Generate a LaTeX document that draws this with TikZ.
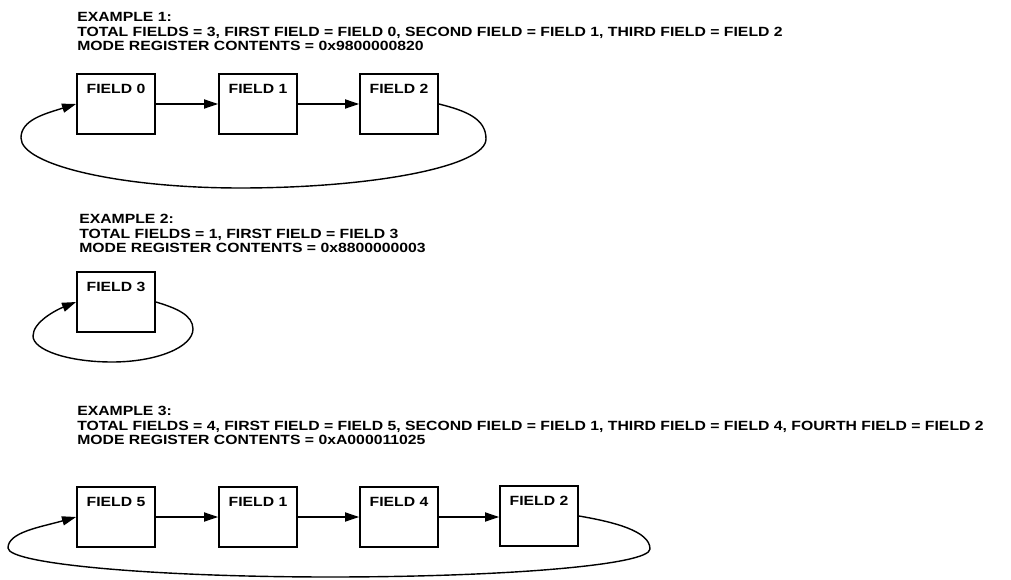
\documentclass[tikz,border=0pt]{standalone}
\usepackage{fontspec}
\setmainfont{Liberation Sans}
\newfontfamily\widesans[FakeStretch=1.18]{Liberation Sans}
\usetikzlibrary{calc,arrows.meta}

\tikzset{
  header/.style={anchor=north west,inner sep=0pt,align=left,
    font=\widesans\fontsize{9.5}{10.4}\selectfont\bfseries},
  fieldbox/.style={draw,rectangle,line width=1.3pt,minimum width=1.95cm,
    minimum height=1.5cm,inner xsep=0pt,inner ysep=0.15cm,
    text height=0.33cm,text depth=0.87cm,
    font=\widesans\fontsize{9.5}{10.4}\selectfont\bfseries},
  flow/.style={line width=1pt,-{Triangle[length=10pt,width=6.5pt]}}
}

\begin{document}
\begin{tikzpicture}[x=0.025cm,y=0.025cm]
  \useasboundingbox (0,0) rectangle (1011,579);
  % example 1
  \node[header] (hdr1) at (77,567) {EXAMPLE 1:\\
    TOTAL FIELDS = 3, FIRST FIELD = FIELD 0, SECOND FIELD = FIELD 1, THIRD FIELD = FIELD 2\\
    MODE REGISTER CONTENTS = 0x9800000820};
  \node[fieldbox] (f0) at (116,475) {FIELD 0};
  \node[fieldbox] (f1) at ($(f0)+(142,0)$) {FIELD 1};
  \node[fieldbox] (f2) at ($(f1)+(141,0)$) {FIELD 2};
  \coordinate (e1r) at (486,440);
  \coordinate (e1b) at (240,391);
  \coordinate (e1l) at (21,441);
  \draw[flow] (f0) -- (f1);
  \draw[flow] (f1) -- (f2);
  \draw[flow] (f2.east) .. controls ($(f2.east)+(28,-7)$) and ($(e1r)+(0,20)$) .. (e1r)
    .. controls ($(e1r)+(0,-27)$) and ($(e1b)+(135,0)$) .. (e1b)
    .. controls ($(e1b)+(-120,0)$) and ($(e1l)+(0,-27)$) .. (e1l)
    .. controls ($(e1l)+(0,18)$) and ($(f0.west)+(-32,-10)$) .. (f0.west);
  % example 2
  \node[header] (hdr2) at (79,365) {EXAMPLE 2:\\
    TOTAL FIELDS = 1, FIRST FIELD = FIELD 3\\
    MODE REGISTER CONTENTS = 0x8800000003};
  \node[fieldbox] (f3) at (116,277) {FIELD 3};
  \coordinate (e2r) at (193,250);
  \coordinate (e2b) at (112,217);
  \coordinate (e2l) at (33,243);
  \draw[flow] (f3.east) .. controls ($(f3.east)+(20,-6)$) and ($(e2r)+(0,14)$) .. (e2r)
    .. controls ($(e2r)+(0,-18)$) and ($(e2b)+(45,0)$) .. (e2b)
    .. controls ($(e2b)+(-44,0)$) and ($(e2l)+(0,-14)$) .. (e2l)
    .. controls ($(e2l)+(0,14)$) and ($(f3.west)+(-20,-8)$) .. (f3.west);
  % example 3
  \node[header] (hdr3) at (77,173) {EXAMPLE 3:\\
    TOTAL FIELDS = 4, FIRST FIELD = FIELD 5, SECOND FIELD = FIELD 1, THIRD FIELD = FIELD 4, FOURTH FIELD = FIELD 2\\
    MODE REGISTER CONTENTS = 0xA000011025};
  \node[fieldbox] (f5) at (116,62) {FIELD 5};
  \node[fieldbox] (f1b) at ($(f5)+(142,0)$) {FIELD 1};
  \node[fieldbox] (f4) at ($(f1b)+(141,0)$) {FIELD 4};
  \node[fieldbox] (f2b) at ($(f4)+(140,1)$) {FIELD 2};
  \coordinate (e3r) at (650,30);
  \coordinate (e3b) at (330,2);
  \coordinate (e3l) at (8,31);
  \draw[flow] (f5) -- (f1b);
  \draw[flow] (f1b) -- (f4);
  \draw[flow] (f4) -- (f2b.west |- f4);
  \draw[flow] (f2b.east) .. controls ($(f2b.east)+(35,-6)$) and ($(e3r)+(0,18)$) .. (e3r)
    .. controls ($(e3r)+(0,-16)$) and ($(e3b)+(175,0)$) .. (e3b)
    .. controls ($(e3b)+(-175,0)$) and ($(e3l)+(0,-16)$) .. (e3l)
    .. controls ($(e3l)+(0,16)$) and ($(f5.west)+(-35,-10)$) .. (f5.west);
\end{tikzpicture}
\end{document}
